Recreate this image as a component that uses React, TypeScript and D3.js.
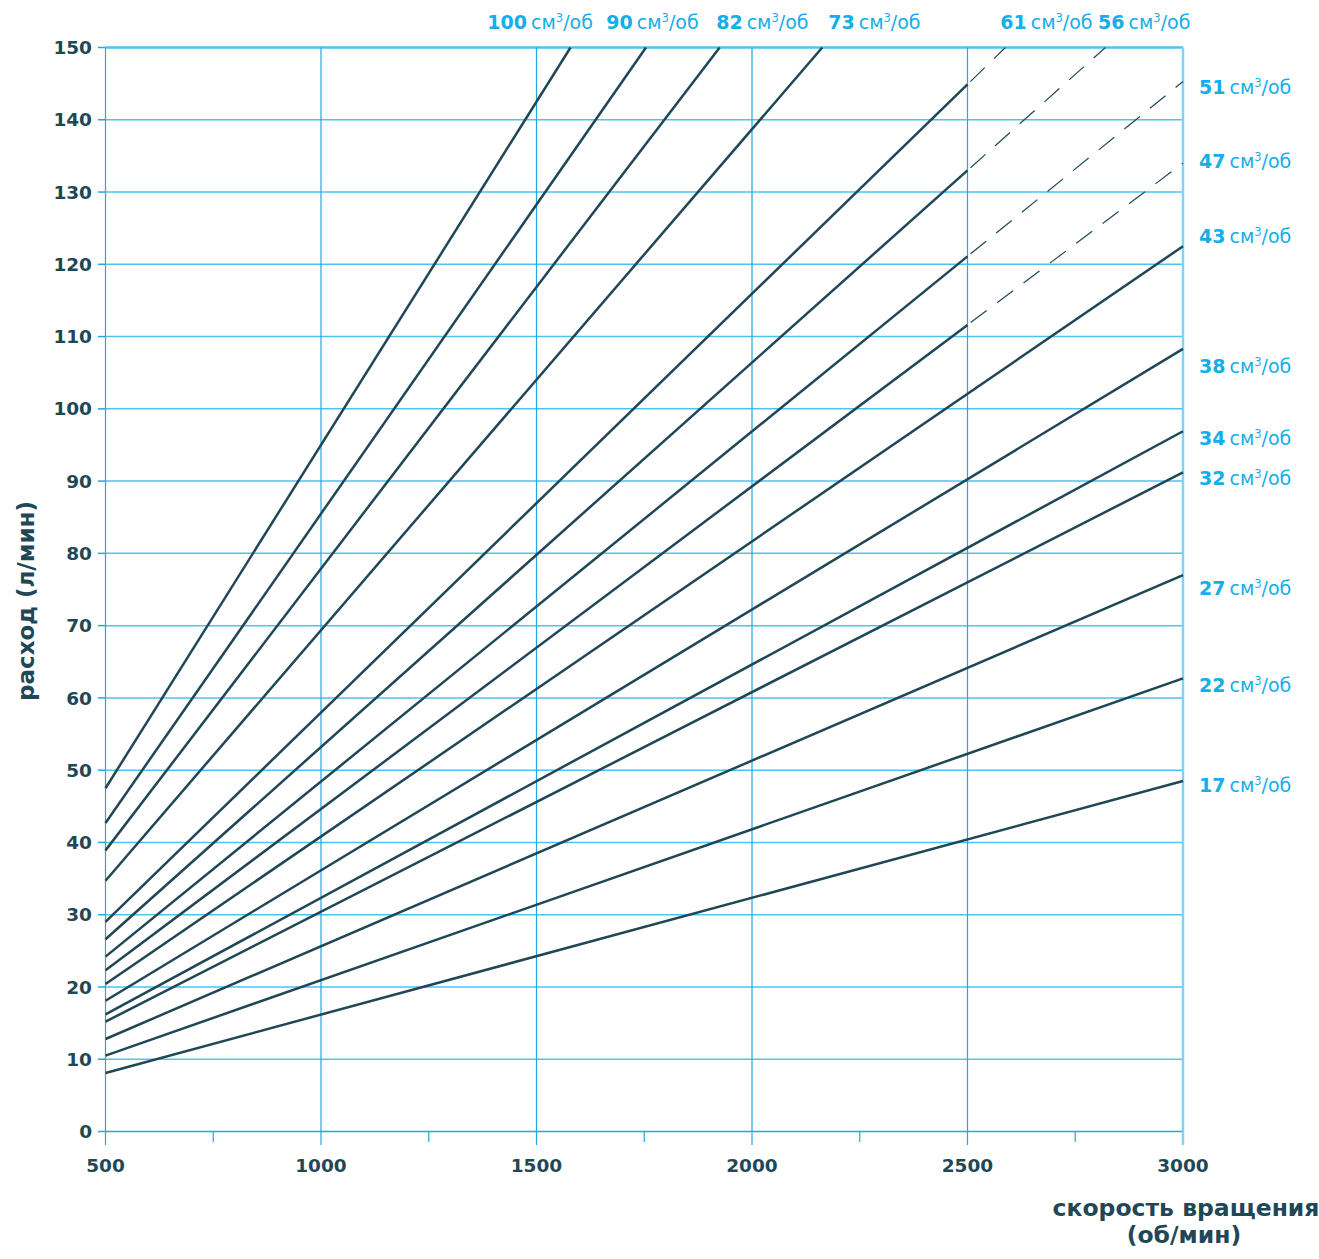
import React from "react";
import * as d3 from "d3";

// displacement (см³/об)
const displacements = [100, 90, 82, 73, 61, 56, 51, 47, 43, 38, 34, 32, 27, 22, 17];
// flow (л/мин) at 500 об/мин
const startFlow = [47.5, 42.7, 38.9, 34.7, 29.0, 26.6, 24.2, 22.3, 20.4, 18.1, 16.2, 15.2, 12.8, 10.5, 8.1];
// end of solid segment: rpm, flow
const solidEndRpm = [1579, 1754, 1925, 2163, 2500, 2500, 2500, 2500, 3000, 3000, 3000, 3000, 3000, 3000, 3000];
const solidEndFlow = [150, 150, 150, 150, 144.9, 133.0, 121.1, 111.6, 122.5, 108.3, 96.9, 91.2, 77.0, 62.7, 48.5];
// dashed continuation end (null = none)
const dashEndRpm: (number | null)[] = [null, null, null, null, 2588, 2820, 3000, 3000, null, null, null, null, null, null, null];
const dashEndFlow: (number | null)[] = [null, null, null, null, 150, 150, 145.3, 134.0, null, null, null, null, null, null, null];

// top labels (anchored by rpm at label start)
const topLabelIdx = [0, 1, 2, 3, 4, 5];
const topLabelRpm = [1386, 1662, 1917, 2177, 2576, 2803];
// right labels (anchored by flow value)
const rightLabelIdx = [6, 7, 8, 9, 10, 11, 12, 13, 14];
const rightLabelFlow = [144.5, 134.3, 123.9, 105.9, 95.9, 90.4, 75.2, 61.8, 47.9];

const yTicks = d3.range(0, 151, 10);
const xMajor = [500, 1000, 1500, 2000, 2500, 3000];
const xMinor = [750, 1250, 1750, 2250, 2750];

const W = 1319;
const H = 1259;
const x = d3.scaleLinear().domain([500, 3000]).range([105.5, 1183]);
const y = d3.scaleLinear().domain([0, 150]).range([1131.5, 47.5]);

const DARK = "#1f4756";
const CYAN = "#14aeea";
const GRID_H = "#4cc3f0";
const GRID_V = "#1fa8e2";
const FONT = "'DejaVu Sans', sans-serif";

export default function App() {
  const line = d3.line<[number, number]>().x((d) => x(d[0])).y((d) => y(d[1]));
  return (
    <svg width={W} height={H} style={{ position: "absolute", left: 0, top: 0 }} fontFamily={FONT}>
      <rect width={W} height={H} fill="#fff" />
      {/* horizontal grid */}
      {yTicks.map((t) => (
        <g key={"h" + t}>
          <line x1={x(500)} x2={x(3000)} y1={y(t)} y2={y(t)} stroke={t === 0 ? GRID_V : GRID_H} strokeWidth={t === 150 ? 2.5 : 1.5} />
          <line x1={98} x2={x(500)} y1={y(t)} y2={y(t)} stroke={GRID_V} strokeWidth={1.5} />
          <text x={92} y={y(t)} dy="0.36em" textAnchor="end" fontSize={18.5} fontWeight="bold" fill={DARK}>{t}</text>
        </g>
      ))}
      {/* vertical grid */}
      {xMajor.map((t) => (
        <g key={"v" + t}>
          <line x1={x(t)} x2={x(t)} y1={y(150)} y2={1145} stroke={t === 3000 ? "#7fd3f5" : GRID_V} strokeWidth={t === 3000 ? 2.5 : 1.2} />
          <text x={x(t)} y={1165} dy="0.36em" textAnchor="middle" fontSize={18.5} fontWeight="bold" fill={DARK}>{t}</text>
        </g>
      ))}
      {xMinor.map((t) => (
        <line key={"m" + t} x1={x(t)} x2={x(t)} y1={y(0)} y2={1142} stroke={GRID_V} strokeWidth={1.2} />
      ))}
      {/* flow lines */}
      {displacements.map((dsp, i) => (
        <g key={"l" + dsp}>
          <path d={line([[500, startFlow[i]], [solidEndRpm[i], solidEndFlow[i]]]) || ""} stroke={DARK} strokeWidth={2.5} fill="none" />
          {dashEndRpm[i] !== null && (
            <path
              d={line([[solidEndRpm[i], solidEndFlow[i]], [dashEndRpm[i] as number, dashEndFlow[i] as number]]) || ""}
              stroke={DARK}
              strokeWidth={1.2}
              strokeDasharray="20 13"
              strokeDashoffset={-4}
              fill="none"
            />
          )}
        </g>
      ))}
      {/* top labels */}
      {topLabelIdx.map((idx, k) => (
        <text key={"t" + idx} x={x(topLabelRpm[k])} y={22} dy="0.36em" fontSize={19} fill={CYAN}>
          <tspan fontWeight="bold">{displacements[idx]}</tspan>
          <tspan dx={4}>см</tspan>
          <tspan fontSize={11.5} dy={-7}>3</tspan>
          <tspan dy={7}>/об</tspan>
        </text>
      ))}
      {/* right labels */}
      {rightLabelIdx.map((idx, k) => (
        <text key={"r" + idx} x={1199} y={y(rightLabelFlow[k])} dy="0.36em" fontSize={19} fill={CYAN}>
          <tspan fontWeight="bold">{displacements[idx]}</tspan>
          <tspan dx={4}>см</tspan>
          <tspan fontSize={11.5} dy={-7}>3</tspan>
          <tspan dy={7}>/об</tspan>
        </text>
      ))}
      {/* axis titles */}
      <text transform={`translate(26,601) rotate(-90)`} textAnchor="middle" dy="0.36em" fontSize={23} fontWeight="bold" fill={DARK}>
        расход (л/мин)
      </text>
      <text x={1186} y={1208} dy="0.36em" textAnchor="middle" fontSize={23.5} fontWeight="bold" fill={DARK}>
        скорость вращения
      </text>
      <text x={1184} y={1235} dy="0.36em" textAnchor="middle" fontSize={23.5} fontWeight="bold" fill={DARK}>
        (об/мин)
      </text>
    </svg>
  );
}
